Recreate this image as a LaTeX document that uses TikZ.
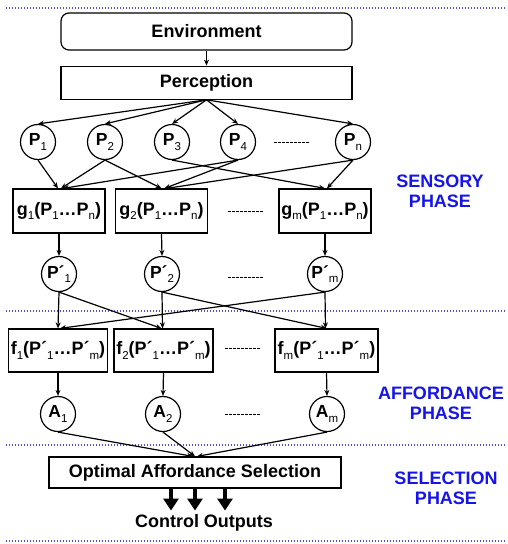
\documentclass[tikz,border=0pt]{standalone}
\usepackage{fontspec}
\setmainfont{Liberation Sans}
\usepackage{tikz}
\usetikzlibrary{positioning,arrows.meta}
\definecolor{fase}{RGB}{20,20,235}
\definecolor{linea}{RGB}{80,80,200}
\newcommand{\lo}[1]{\raisebox{-4.5pt}{\mdseries\fontsize{11.5}{12}\selectfont #1}}

\begin{document}
\begin{tikzpicture}[
    x=1pt, y=1pt,
    font=\fontsize{18}{20}\selectfont\bfseries,
    line width=1.2pt,
    block/.style={rectangle, draw, inner sep=0pt, minimum width=92pt, minimum height=44pt},
    unit/.style={circle, draw, inner sep=0pt, minimum size=35pt,
      font=\fontsize{17.5}{20}\selectfont\bfseries},
    phase/.style={text=fase, align=center, inner sep=0pt},
    phaseline/.style={draw=linea, line width=1.2pt, dash pattern=on 1.2pt off 1.8pt},
    ellip/.style={line width=0.6pt, dash pattern=on 2.5pt off 1.5pt},
    thickout/.style={line width=4.5pt, -{Triangle[width=15pt,length=12pt]}},
    >={Stealth[length=6pt,width=5pt]}
  ]
    \useasboundingbox (0,0) rectangle (508,-544);

    % phase separators
    \foreach \yy in {8,311,445,541}
      \draw[phaseline] (6,-\yy) -- (506,-\yy);

    \node[block, rounded corners=8pt, minimum width=291pt, minimum height=37pt] (env) at (206.5,-31.5) {Environment};
    \node[block, minimum width=291pt, minimum height=33pt, below=15pt of env] (perc) {Perception};

    % sensory phase
    \node[unit] (p1) at (38,-142) {P\lo{1}};
    \node[unit] (p2) at (105,-142) {P\lo{2}};
    \node[unit] (p3) at (172,-142) {P\lo{3}};
    \node[unit] (p4) at (238,-142) {P\lo{4}};
    \node[unit] (pn) at (353,-142) {P\lo{n}};
    \draw[ellip] (274,-142) -- (309,-142);

    \node[block] (g1) at (59,-211) {g\lo{1}(P\lo{1}…P\lo{n})};
    \node[block] (g2) at (161.5,-211) {g\lo{2}(P\lo{1}…P\lo{n})};
    \node[block] (gm) at (325,-211) {g\lo{m}(P\lo{1}…P\lo{n})};
    \draw[ellip] (228,-211) -- (263,-211);

    \node[unit] (q1) at (59,-274) {P´\lo{1}};
    \node[unit] (q2) at (162,-274) {P´\lo{2}};
    \node[unit] (qm) at (325,-274) {P´\lo{m}};
    \draw[ellip] (228,-277) -- (263,-277);

    \node[phase] (sens) at (440,-191) {SENSORY\\PHASE};

    % affordance phase
    \node[block, minimum width=99pt, minimum height=43pt] (f1) at (58,-350.5) {f\lo{1}(P´\lo{1}…P´\lo{m})};
    \node[block, minimum width=99pt, minimum height=43pt] (f2) at (163.5,-350.5) {f\lo{2}(P´\lo{1}…P´\lo{m})};
    \node[block, minimum width=103pt, minimum height=43pt] (fm) at (326.5,-350.5) {f\lo{m}(P´\lo{1}…P´\lo{m})};
    \draw[ellip] (225,-348) -- (260,-348);

    \node[unit] (a1) at (58,-414) {A\lo{1}};
    \node[unit] (a2) at (163,-414) {A\lo{2}};
    \node[unit] (am) at (327,-414) {A\lo{m}};
    \draw[ellip] (225,-414) -- (260,-414);

    \node[phase] (aff) at (441,-403) {AFFORDANCE\\PHASE};

    % selection phase
    \node[block, minimum width=292pt, minimum height=31pt] (sel) at (195,-472.5) {Optimal Affordance Selection};
    \node[inner sep=1pt] (outs) at (204,-522.5) {Control Outputs};
    \node[phase] (selp) at (446,-488) {SELECTION\\PHASE};

    \draw[->] (env) -- (perc);
    \foreach \n in {p1,p2,p3,p4,pn}
      \draw[->] (perc.south) -- (\n.north);

    \draw[->] (p1.south) -- ([xshift=-1pt]g1.north);
    \draw[->] (p2.south) -- ([xshift=2pt]g1.north);
    \draw[->] (p4.south) -- ([xshift=4pt]g1.north);
    \draw[->] (p2.south) -- (g2.north);
    \draw[->] (p4.south) -- ([xshift=3pt]g2.north);
    \draw[->] (pn.south) -- ([xshift=5pt]g2.north);
    \draw[->] (p3.south) -- (gm.north);
    \draw[->] (pn.south) -- ([xshift=2pt]gm.north);

    \draw[->] (g1.south) -- (q1.north);
    \draw[->] (g2.south) -- (q2.north);
    \draw[->] (gm.south) -- (qm.north);

    \draw[->] (q1.south) -- (f1.north);
    \draw[->] (q1.south) -- ([xshift=-2pt]f2.north);
    \draw[->] (q2.south) -- ([xshift=-1pt]f2.north);
    \draw[->] (q2.south) -- (fm.north);
    \draw[->] (qm.south) -- ([xshift=-1pt]fm.north);
    \draw[->] (qm.south) -- ([xshift=2pt]f1.north);

    \draw[->] (f1.south) -- (a1.north);
    \draw[->] (f2.south) -- (a2.north);
    \draw[->] (fm.south) -- (am.north);

    \draw[->] (a1.south) -- ([xshift=-2pt]sel.north);
    \draw[->] (a2.south) -- (sel.north);
    \draw[->] (am.south) -- ([xshift=2pt]sel.north);

    \foreach \dx in {-24,0,30}
      \draw[thickout] ([xshift=\dx pt]sel.south) -- ([xshift=\dx pt, yshift=2pt]sel.south |- outs.north);
\end{tikzpicture}
\end{document}
